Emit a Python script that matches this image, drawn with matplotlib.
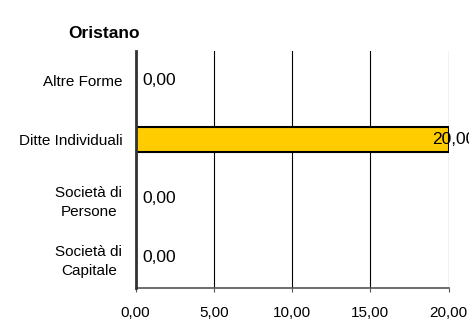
import matplotlib
matplotlib.use('Agg')
import matplotlib.pyplot as plt
from matplotlib.ticker import FuncFormatter

plt.rcParams['font.family'] = ['Liberation Sans', 'DejaVu Sans']

categories = ['Altre Forme', 'Ditte Individuali', 'Società di\nPersone', 'Società di\nCapitale']
values = [0.0, 20.0, 0.0, 0.0]
x_ticks = [0, 5, 10, 15, 20]
title = 'Oristano'


def it_fmt(v, pos=None):
    return f'{v:.2f}'.replace('.', ',')


fig = plt.figure(figsize=(4.69, 3.2), dpi=100)
ax = fig.add_axes([135.5 / 469, 1 - 287.5 / 320, 313 / 469, 237 / 320])

ypos = list(range(len(categories)))
# only non-zero bars are drawn; zero values just get their label
nz = [(y, v) for y, v in zip(ypos, values) if v > 0]
ax.barh([p[0] for p in nz], [p[1] for p in nz], height=0.42, color='#FFCC00',
        edgecolor='black', linewidth=1.5, zorder=3)

ax.set_xlim(0, 20)
ax.set_ylim(len(categories) - 0.5, -0.5)
ax.set_xticks(x_ticks)
ax.xaxis.set_major_formatter(FuncFormatter(it_fmt))
ax.set_yticks(ypos)
ax.set_yticklabels(categories, multialignment='center', linespacing=1.45)

ax.grid(axis='x', color='black', linewidth=0.8, zorder=1)
for s in ['top', 'right', 'left']:
    ax.spines[s].set_visible(False)
ax.spines['bottom'].set_color('#555555')
ax.spines['bottom'].set_linewidth(1.2)
ax.axvline(0, color='#333333', linewidth=2, zorder=4, clip_on=False)
ax.tick_params(axis='y', length=0, pad=9.5, labelsize=11)
ax.tick_params(axis='x', length=3, pad=10.5, labelsize=11, color='#555555')

for y, v in zip(ypos, values):
    off = -11.5 if v > 0 else 5
    ax.annotate(it_fmt(v), xy=(v, y), xytext=(off, 0), textcoords='offset points',
                ha='left', va='center', fontsize=12.5, zorder=5, annotation_clip=False)

fig.text(68 / 469, 1 - 33 / 320, title, fontsize=12.5, fontweight='bold', ha='left', va='center')

fig.savefig('out.png', dpi=100)
